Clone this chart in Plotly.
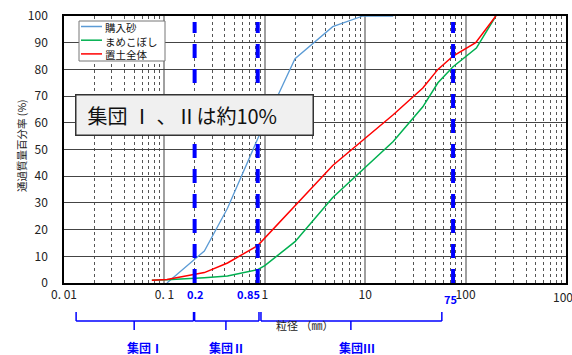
import math
import plotly.graph_objects as go

# ---- data ----
sand_size = [0.106, 0.25, 0.425, 0.85, 2, 4.75, 9.5, 19]
sand_pass = [0, 12, 28, 54, 84, 96, 100, 100]

mame_size = [0.075, 0.106, 0.25, 0.425, 0.85, 1, 2, 4.75, 19, 37.5, 53, 75, 128, 200]
mame_pass = [1, 1.2, 2, 2.6, 5, 6.5, 15.5, 32, 53, 66, 75, 81, 88, 100]

oki_size = [0.075, 0.106, 0.25, 0.425, 0.85, 2, 4.75, 19, 37.5, 53, 75, 126, 200]
oki_pass = [1, 1.3, 3.9, 7.5, 14, 29, 44, 63, 73, 80, 85, 90, 100]

series_names = ["購入砂", "まめこぼし", "置土全体"]
series_colors = ["#5B9BD5", "#00B050", "#FF0000"]

boundaries = [0.2, 0.85, 75]
boundary_labels = ["0.2", "0.85", "75"]

x_tickvals = [0.01, 0.1, 1, 10, 100]
x_ticktext = ["0. 01", "0. 1", "1", "10", "100"]
x_last_tick = (1000, "1000")
y_tickvals = list(range(0, 101, 10))

FONT = "Noto Sans CJK JP"
BLUE = "#0000FF"

fig = go.Figure()
for xs, ys, nm, col, w in [(sand_size, sand_pass, series_names[0], series_colors[0], 1.3),
                           (mame_size, mame_pass, series_names[1], series_colors[1], 1.5),
                           (oki_size, oki_pass, series_names[2], series_colors[2], 1.5)]:
    fig.add_trace(go.Scatter(x=xs, y=ys, mode="lines", name=nm, showlegend=False,
                             line=dict(color=col, width=w)))

H = 267.0  # plot height px
W = 502.0  # plot width px
def py(px):
    return (283 - px) / H
def pxp(px):
    return (px - 64) / W

shapes = []
# dashed boundary lines (shape coords on log axis use raw data values)
for b in boundaries:
    shapes.append(dict(type="line", xref="x", yref="paper", x0=b, x1=b,
                       y0=0, y1=py(22), line=dict(color=BLUE, width=4, dash="14px,11px")))

# braces: (left, right, middle) in data units
braces = [(0.0132, 0.195, 0.05), (0.2, 0.875, 0.41), (0.916, 58, 7.2)]
for (a, b, m) in braces:
    ln = dict(color=BLUE, width=1.5)
    shapes.append(dict(type="line", xref="x", yref="paper", x0=a, x1=b, y0=py(321), y1=py(321), line=ln))
    shapes.append(dict(type="line", xref="x", yref="paper", x0=a, x1=a, y0=py(321), y1=py(312), line=ln))
    shapes.append(dict(type="line", xref="x", yref="paper", x0=b, x1=b, y0=py(321), y1=py(312), line=ln))
    shapes.append(dict(type="line", xref="x", yref="paper", x0=m, x1=m, y0=py(321), y1=py(330), line=ln))

# custom legend box
shapes.append(dict(type="rect", xref="paper", yref="paper", x0=pxp(79), x1=pxp(165), y0=py(61), y1=py(21),
                   fillcolor="white", line=dict(color="#777", width=1), layer="above"))
annotations = []
for i, col in enumerate(series_colors):
    yy = 26.5 + 13.7 * i
    shapes.append(dict(type="line", xref="paper", yref="paper", x0=pxp(81), x1=pxp(102), y0=py(yy), y1=py(yy),
                       line=dict(color=col, width=1.5), layer="above"))
annotations.append(dict(x=pxp(103), y=py(40.5), xref="paper", yref="paper", text="<br>".join(series_names),
                        xanchor="left", yanchor="middle", align="left", showarrow=False,
                        font=dict(family=FONT, size=10.5, color="#111")))

for b, t in zip(boundaries, boundary_labels):
    shift = {"0.2": 1, "0.85": -9, "75": -3}[t]
    yy = py(299) if t == "75" else py(294)
    annotations.append(dict(x=math.log10(b), y=yy, xref="x", yref="paper", text="<b>%s</b>" % t,
                            xanchor="center", yanchor="middle",
                            showarrow=False, xshift=shift, font=dict(family=FONT, size=11, color=BLUE)))
for x, t, yy in [(0.064, "集団Ⅰ", 347), (0.42, "集団Ⅱ", 347), (8.3, "集団Ⅲ", 347)]:
    annotations.append(dict(x=math.log10(x), y=py(yy), xref="x", yref="paper", text="<b>%s</b>" % t,
                            xanchor="center", yanchor="middle",
                            showarrow=False, font=dict(family=FONT, size=12, color=BLUE)))
annotations.append(dict(x=math.log10(x_last_tick[0]), y=py(296), xref="x", yref="paper", text=x_last_tick[1],
                        xanchor="center", yanchor="middle", showarrow=False,
                        font=dict(family=FONT, size=12, color="#222")))
annotations.append(dict(x=pxp(304), y=py(325), xref="paper", yref="paper", text="粒径 （㎜）",
                        xanchor="center", yanchor="middle",
                        showarrow=False, font=dict(family=FONT, size=11, color="#222")))
annotations.append(dict(x=pxp(21), y=py(146), xref="paper", yref="paper", text="通過質量百分率 (%)",
                        textangle=-90, xanchor="center", yanchor="middle",
                        showarrow=False, font=dict(family=FONT, size=10.5, color="#222")))
annotations.append(dict(x=pxp(194), y=py(114.5), xref="paper", yref="paper", xanchor="center", yanchor="middle",
                        text="&nbsp;&nbsp;集団 Ⅰ 、Ⅱは約10%", showarrow=False, align="left",
                        width=232, height=35, bgcolor="#F0F0F0", bordercolor="#333", borderwidth=1.5,
                        borderpad=2, font=dict(family=FONT, size=20, color="#111")))

fig.update_layout(
    width=572, height=355,
    margin=dict(l=64, r=6, t=16, b=72, autoexpand=False),
    paper_bgcolor="white", plot_bgcolor="white",
    font=dict(family=FONT, size=12, color="#222"),
    showlegend=False,
    shapes=shapes, annotations=annotations,
)
fig.update_xaxes(type="log", range=[-2, 3], tickvals=x_tickvals, ticktext=x_ticktext, automargin=False,
                 showgrid=True, gridcolor="#A0A0A0", gridwidth=1.5,
                 minor=dict(dtick="D1", showgrid=True, gridcolor="#555", gridwidth=1, griddash="3px,3px", ticks=""),
                 showline=True, linecolor="#000", linewidth=1.5, mirror=True, ticks="",
                 ticklabelstandoff=0, tickfont=dict(size=12, color="#222"), zeroline=False)
fig.update_yaxes(range=[0, 100], tickvals=y_tickvals, showgrid=True, gridcolor="#444", gridwidth=1,
                 automargin=False,
                 showline=True, linecolor="#000", linewidth=1.5, mirror=True, ticks="",
                 ticklabelstandoff=12, tickfont=dict(size=12, color="#222"), zeroline=False)

fig.write_html("out.html", config={"displayModeBar": False},
               post_script="document.body.style.margin='0px';")
